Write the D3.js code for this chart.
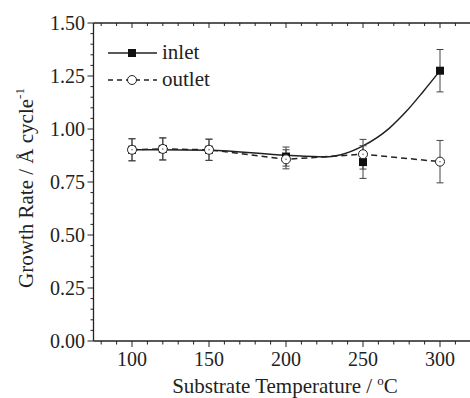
<!DOCTYPE html>
<html>
<head>
<meta charset="utf-8">
<script src="https://cdn.jsdelivr.net/npm/d3@7"></script>
<style>
  body { margin: 0; background: #fff; }
  svg { display: block; }
  text { font-family: "Liberation Serif", "Times New Roman", serif; fill: #222; }
</style>
</head>
<body>
<svg id="chart" width="470" height="398"></svg>
<script>
// temperatures (°C)
const temps = [100, 120, 150, 200, 250, 300];
// growth rate, Å/cycle
const inletRate = [0.902, 0.906, 0.902, 0.87, 0.844, 1.275];
const inletErr = [0.052, 0.052, 0.05, 0.045, 0.077, 0.1];
const outletRate = [0.902, 0.906, 0.902, 0.857, 0.881, 0.846];
const outletErr = [0.052, 0.052, 0.05, 0.045, 0.07, 0.1];
// smooth guide line through the inlet data
const inletFitT = [100, 150, 200, 225, 235, 250, 267, 278, 289, 300];
const inletFitV = [0.902, 0.9, 0.876, 0.868, 0.877, 0.92, 1.003, 1.082, 1.176, 1.275];

const xTicks = [100, 150, 200, 250, 300];
const yTicks = [0, 0.25, 0.5, 0.75, 1.0, 1.25, 1.5];

const svg = d3.select("#chart");
const x = d3.scaleLinear().domain([75, 325]).range([93.5, 478.5]);
const y = d3.scaleLinear().domain([0, 1.5]).range([341, 23]);

const ink = "#222";

// frame
svg.append("line").attr("x1", x(75)).attr("x2", 470).attr("y1", y(0)).attr("y2", y(0))
  .attr("stroke", ink).attr("stroke-width", 1.3);
svg.append("line").attr("x1", x(75)).attr("x2", 470).attr("y1", y(1.5)).attr("y2", y(1.5))
  .attr("stroke", ink).attr("stroke-width", 1.3);
svg.append("line").attr("x1", x(75)).attr("x2", x(75)).attr("y1", y(0)).attr("y2", y(1.5))
  .attr("stroke", ink).attr("stroke-width", 1.3);

// x ticks (bottom outward, top pointing down)
const xMinor = d3.range(80, 330, 10);
xMinor.forEach((t) => {
  const major = t % 50 === 0;
  svg.append("line").attr("x1", x(t)).attr("x2", x(t))
    .attr("y1", y(0)).attr("y2", y(0) + (major ? 6 : 3.5))
    .attr("stroke", ink).attr("stroke-width", 1);
  svg.append("line").attr("x1", x(t)).attr("x2", x(t))
    .attr("y1", y(1.5)).attr("y2", y(1.5) + (major ? 5 : 3))
    .attr("stroke", ink).attr("stroke-width", 1);
});
svg.selectAll(".xlab").data(xTicks).enter().append("text")
  .attr("x", (d) => x(d)).attr("y", 366)
  .attr("text-anchor", "middle").attr("font-size", 20)
  .text((d) => d);

// y ticks (outward)
d3.range(0, 31).forEach((i) => {
  const v = i * 0.05;
  const major = i % 5 === 0;
  svg.append("line").attr("x1", x(75)).attr("x2", x(75) - (major ? 6 : 3))
    .attr("y1", y(v)).attr("y2", y(v))
    .attr("stroke", ink).attr("stroke-width", 1);
});
svg.selectAll(".ylab").data(yTicks).enter().append("text")
  .attr("x", 85).attr("y", (d) => y(d) + 7)
  .attr("text-anchor", "end").attr("font-size", 20)
  .text((d) => d.toFixed(2));

// axis titles
svg.append("text").attr("x", 285).attr("y", 393)
  .attr("text-anchor", "middle").attr("font-size", 21)
  .html("Substrate Temperature / <tspan dy='-8' font-size='13'>o</tspan><tspan dy='8'>C</tspan>");
svg.append("text")
  .attr("transform", "translate(33,188) rotate(-90)")
  .attr("text-anchor", "middle").attr("font-size", 21)
  .html("Growth Rate / Å cycle<tspan dy='-9' font-size='13'>-1</tspan>");

// lines
const line = d3.line().x((d) => x(d[0])).y((d) => y(d[1]));
svg.append("path")
  .datum(d3.zip(temps, outletRate))
  .attr("d", line.curve(d3.curveLinear))
  .attr("fill", "none").attr("stroke", ink).attr("stroke-width", 1.5)
  .attr("stroke-dasharray", "6,4");
svg.append("path")
  .datum(d3.zip(inletFitT, inletFitV))
  .attr("d", d3.line().x((d) => x(d[0])).y((d) => y(d[1])).curve(d3.curveMonotoneX))
  .attr("fill", "none").attr("stroke", ink).attr("stroke-width", 1.5);

// error bars
function errorBars(vals, errs) {
  temps.forEach((t, i) => {
    const g = svg.append("g").attr("stroke", "#444").attr("stroke-width", 1);
    g.append("line").attr("x1", x(t)).attr("x2", x(t))
      .attr("y1", y(vals[i] - errs[i])).attr("y2", y(vals[i] + errs[i]));
    [vals[i] - errs[i], vals[i] + errs[i]].forEach((v) => {
      g.append("line").attr("x1", x(t) - 3.5).attr("x2", x(t) + 3.5)
        .attr("y1", y(v)).attr("y2", y(v));
    });
  });
}
errorBars(inletRate, inletErr);
errorBars(outletRate, outletErr);

// markers
svg.selectAll(".sq").data(d3.zip(temps, inletRate)).enter().append("rect")
  .attr("x", (d) => x(d[0]) - 4).attr("y", (d) => y(d[1]) - 4)
  .attr("width", 8).attr("height", 8).attr("fill", "#111");
svg.selectAll(".ci").data(d3.zip(temps, outletRate)).enter().append("circle")
  .attr("cx", (d) => x(d[0])).attr("cy", (d) => y(d[1])).attr("r", 4.5)
  .attr("fill", "#fff").attr("stroke", ink).attr("stroke-width", 1);
svg.selectAll(".dot").data(d3.zip(temps, outletRate)).enter().append("circle")
  .attr("cx", (d) => x(d[0])).attr("cy", (d) => y(d[1])).attr("r", 0.7)
  .attr("fill", "#555");

// legend
const lg = svg.append("g");
lg.append("line").attr("x1", 108).attr("x2", 157).attr("y1", 53).attr("y2", 53)
  .attr("stroke", ink).attr("stroke-width", 1.5);
lg.append("rect").attr("x", 128).attr("y", 49).attr("width", 8).attr("height", 8).attr("fill", "#111");
lg.append("text").attr("x", 162).attr("y", 59).attr("font-size", 21).text("inlet");
lg.append("line").attr("x1", 108).attr("x2", 157).attr("y1", 80).attr("y2", 80)
  .attr("stroke", ink).attr("stroke-width", 1.5).attr("stroke-dasharray", "5,4");
lg.append("circle").attr("cx", 132).attr("cy", 80).attr("r", 4.5)
  .attr("fill", "#fff").attr("stroke", ink);
lg.append("text").attr("x", 162).attr("y", 86).attr("font-size", 21).text("outlet");
</script>
</body>
</html>
